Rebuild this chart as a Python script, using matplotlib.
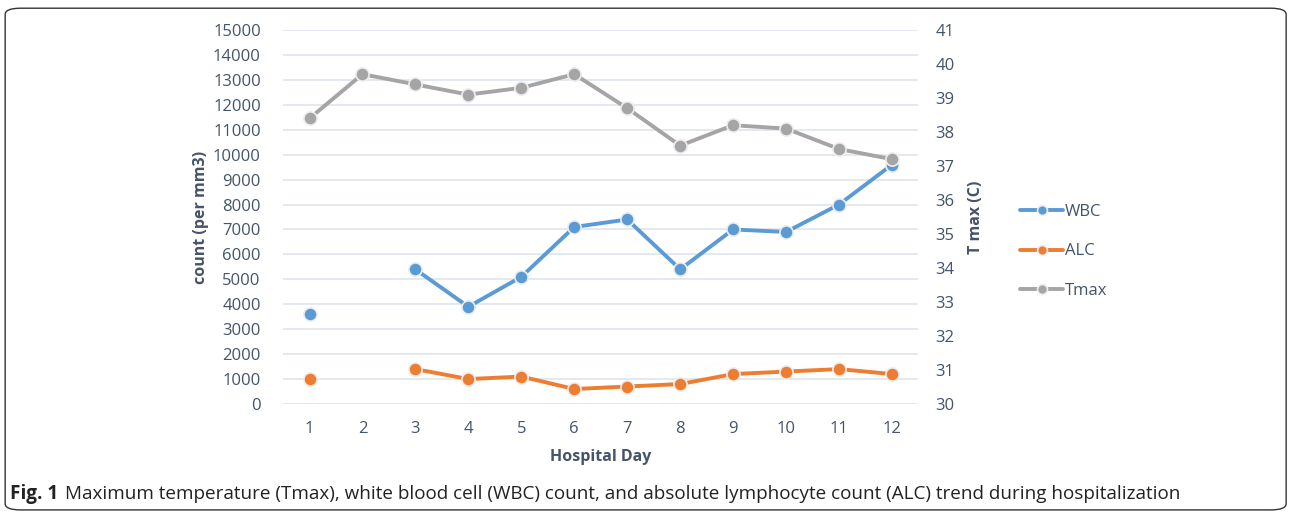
import numpy as np
import matplotlib
matplotlib.use("Agg")
import matplotlib.pyplot as plt
from matplotlib.patches import FancyBboxPatch

days = [1, 2, 3, 4, 5, 6, 7, 8, 9, 10, 11, 12]
wbc = [3600, np.nan, 5400, 3900, 5100, 7100, 7400, 5400, 7000, 6900, 8000, 9600]
alc = [1000, np.nan, 1400, 1000, 1100, 600, 700, 800, 1200, 1300, 1400, 1200]
tmax = [38.4, 39.7, 39.4, 39.1, 39.3, 39.7, 38.7, 37.6, 38.2, 38.1, 37.5, 37.2]

txt = "#44546A"
plt.rcParams["font.family"] = ["Open Sans", "DejaVu Sans"]

fig = plt.figure(figsize=(12.9, 5.13), dpi=100)
ax = fig.add_axes([0.2194, 0.2125, 0.4926, 0.729])
ax2 = ax.twinx()

mk = dict(marker="o", markersize=9.5, markeredgecolor="#EDEDED", markeredgewidth=1.2,
          linewidth=2.8, solid_capstyle="round", solid_joinstyle="round")
l1, = ax.plot(days, wbc, color="#5B9BD5", label="WBC", **mk)
l2, = ax.plot(days, alc, color="#ED7D31", label="ALC", **mk)
l3, = ax2.plot(days, tmax, color="#A5A5A5", label="Tmax", **mk)

ax.set_xlim(0.5, 12.5)
ax.set_ylim(0, 15000)
ax.set_yticks(np.arange(0, 15001, 1000))
ax2.set_ylim(30, 41)
ax2.set_yticks(np.arange(30, 42, 1))
ax.set_xticks(days)

ax.grid(axis="y", color="#DCE3EC", linewidth=1.1)
ax.set_axisbelow(True)
for a in (ax, ax2):
    for s in a.spines.values():
        s.set_visible(False)
    a.tick_params(length=0, labelsize=12, labelcolor=txt)
ax.tick_params(axis="y", pad=16)
ax.tick_params(axis="x", pad=12)
ax2.tick_params(axis="y", pad=12)

ax.set_ylabel("count (per mm3)", fontsize=11.5, fontweight="bold", color=txt, labelpad=3)
ax2.set_ylabel("T max (C)", fontsize=11.5, fontweight="bold", color=txt, labelpad=10)
ax.set_xlabel("Hospital Day", fontsize=11.5, fontweight="bold", color=txt, labelpad=9)

leg = fig.legend(handles=[l1, l2, l3], loc="center left", bbox_to_anchor=(0.779, 0.51),
                 frameon=False, fontsize=12, labelspacing=1.4, handlelength=2.6,
                 handletextpad=0.1, markerscale=0.75)
for t in leg.get_texts():
    t.set_color(txt)

# caption: bold "Fig. 1" then normal text right after it
cap_y = 0.028
t1 = fig.text(0.008, cap_y, "Fig. 1", fontsize=13.6, fontweight="bold", va="baseline", color="#222222")
fig.canvas.draw()
bb = t1.get_window_extent()
x2 = (bb.x1 + 6) / fig.bbox.width
fig.text(x2, cap_y,
         "Maximum temperature (Tmax), white blood cell (WBC) count, and absolute lymphocyte count (ALC) trend during hospitalization",
         fontsize=13.6, va="baseline", color="#222222")

fig.patches.append(FancyBboxPatch((0.004, 0.006), 0.993, 0.978, boxstyle="round,pad=0,rounding_size=0.012",
                                  transform=fig.transFigure, fill=False, edgecolor="#333333", linewidth=1.0))

fig.savefig("out.png", dpi=100)
